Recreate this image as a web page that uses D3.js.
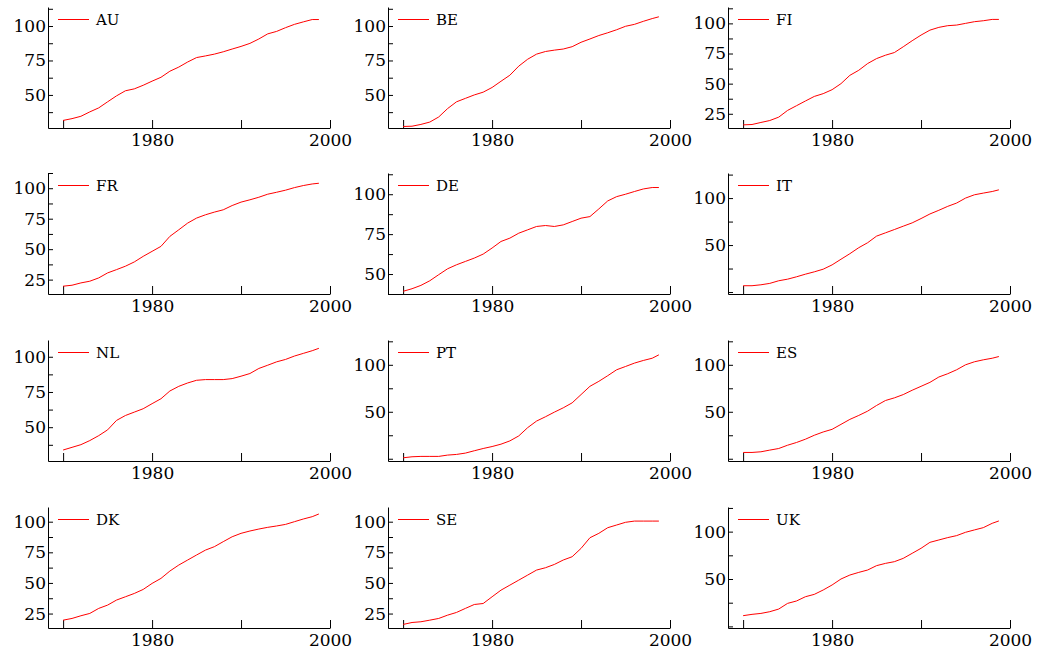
<!DOCTYPE html>
<html>
<head>
<meta charset="utf-8">
<script src="https://cdn.jsdelivr.net/npm/d3@7"></script>
<style>
  body { margin: 0; background: #fff; }
  svg { display: block; }
  text { font-family: "DejaVu Serif", "Liberation Serif", Times, serif; fill: #000; }
</style>
</head>
<body>
<svg id="chart" width="1037" height="657"></svg>
<script>
const countries = ["AU","BE","FI","FR","DE","IT","NL","PT","ES","DK","SE","UK"];
const years = [1970,1971,1972,1973,1974,1975,1976,1977,1978,1979,1980,1981,1982,1983,1984,1985,1986,1987,1988,1989,1990,1991,1992,1993,1994,1995,1996,1997,1998,1998.75];

const AU = [31.5,32.8,34.5,37.7,40.6,45,49.3,53,54.4,57,60,62.8,67.2,70.2,73.9,77.1,78.3,79.6,81.3,83.3,85.2,87.4,90.6,94.3,96.1,98.8,101.2,103,104.7,104.7];
const BE = [27.1,27.3,28.6,30.3,34,40.1,45,47.5,50,52,55.4,59.9,64.3,70.9,75.9,79.6,81.5,82.5,83.3,85,88.2,90.6,93.1,95.1,97.3,99.8,101.2,103.4,105.4,106.7];
const FI = [15.8,16.1,17.8,19.4,22.2,27.8,31.7,35.6,39.4,41.7,45,50,56.9,61.1,66.7,70.8,73.6,75.8,80.6,85.6,90.3,94.4,96.7,98.1,98.6,100,101.4,102.2,103.3,103.3];
const FR = [19.6,20.4,22.3,23.7,26.4,30.5,33.2,36,39.5,44.1,48.2,52.3,60.5,65.9,71.4,75.5,78.2,80.4,82.3,85.8,88.6,90.5,92.6,95.1,96.7,98.4,100.5,102.2,103.5,104.1];
const DE = [39.2,40.8,42.9,45.8,49.6,53.3,55.8,57.9,60,62.5,66.3,70.4,72.5,75.6,77.7,79.8,80.4,79.8,80.8,82.9,85,86,90.8,95.8,98.5,100,101.7,103.3,104.2,104.2];
const IT = [6.7,6.7,7.7,9.2,12,13.7,16.2,19,21.5,24.3,28.9,34.9,40.8,47.2,52.5,59.5,63,66.5,70.1,73.6,78.2,83.1,87,91.2,94.7,100,103.5,105.3,107,108.8];
const NL = [33.8,35.7,37.6,40.5,44,48.1,54.8,58.3,60.7,63.1,66.7,70.2,75.7,79,81.4,83.3,83.8,83.8,83.8,84.5,86.2,88.1,91.7,94,96.4,98.1,100.5,102.4,104.3,106];
const PT = [1.0,2.1,2.5,2.5,2.5,3.9,4.6,6,8.5,10.9,13,15.5,19,24.3,33.1,40.1,44.7,49.6,54.2,59.5,68.3,77.1,82.4,88.4,94.7,98.2,101.8,104.6,107,110.6];
const ES = [6.7,6.7,7.4,9.2,10.9,14.4,17.3,20.8,25,28.5,31.3,36.6,41.9,46.1,50.7,56.7,62,64.8,68.3,72.9,77.1,81.3,87,90.5,94.7,100,103.2,105.3,107,108.8];
const DK = [19.6,21,23.2,25.1,29.2,31.9,36,38.7,41.4,44.7,49.6,53.7,59.7,64.6,68.7,72.8,76.8,79.6,83.7,87.7,90.5,92.4,94,95.4,96.5,97.8,100,102.2,104.1,106.3];
const SE = [16.1,17.7,18.3,19.6,21,23.7,25.9,29.2,32.4,33.2,38.7,44.1,48.2,52.3,56.4,60.5,62.4,65.1,68.7,71.4,78.2,86.9,90.5,95.1,97.3,99.5,100.5,100.5,100.5,100.5];
const UK = [11.3,12.7,13.7,15.5,18.3,24.3,26.8,31.3,33.8,38.4,43.7,50,54.2,57,59.5,64.1,66.5,68.3,71.8,77.1,82.4,88.7,91.2,93.7,95.8,99.3,101.8,104.2,108.8,111.3];

const seriesByCountry = {AU, BE, FI, FR, DE, IT, NL, PT, ES, DK, SE, UK};
// y-axis ranges
const yMin = [26,26,13.2, 13.2,37.5,-2.1, 26,-2.4,-2.4, 13.2,13.2,-1.7];
const yMax = [113.8,113.8,113.6, 112.5,113.3,126.7, 111.9,126.4,126.4, 112,112,126];
// label step per panel (minor ticks at half the step)
const yStep = [25,25,25, 25,25,50, 25,50,50, 25,25,50];
const xTickValues = [1970,1980,1990,2000];
const xTickLabels = [1980,2000];

const svg = d3.select("#chart");
const colLeft = [48, 388, 728];
const rowTop = [7, 173, 340, 507];
const pw = 282, ph = 121;

countries.forEach((c, i) => {
  const col = i % 3, row = Math.floor(i / 3);
  const g = svg.append("g").attr("transform", `translate(${colLeft[col]},${rowTop[row]})`);
  const x = d3.scaleLinear().domain([1968.3, 2000]).range([0, pw]);
  const y = d3.scaleLinear().domain([yMin[i], yMax[i]]).range([ph, 0]);
  const step = yStep[i];
  const yTicks = d3.range(Math.ceil(yMin[i] / (step/2)) * (step/2), yMax[i] + 0.001, step/2);

  const yAxis = d3.axisLeft(y).tickValues(yTicks).tickSizeInner(-5).tickSizeOuter(0).tickPadding(2)
    .tickFormat(v => (Math.abs(v % step) < 1e-6 && v > 0) ? d3.format("d")(v) : "");
  const ya = g.append("g").call(yAxis).attr("font-family", null);
  ya.selectAll("text").attr("font-size", 17);

  const xAxis = d3.axisBottom(x).tickValues(xTickValues).tickSizeInner(-8).tickSizeOuter(0).tickPadding(6)
    .tickFormat(v => xTickLabels.includes(v) ? String(v) : "");
  const xa = g.append("g").attr("transform", `translate(0,${ph})`).call(xAxis).attr("font-family", null);
  xa.selectAll("text").attr("font-size", 17);
  g.selectAll(".domain, .tick line").attr("stroke", "#000").attr("stroke-width", 1);

  const data = years.map((yr, k) => [yr, seriesByCountry[c][k]]);
  g.append("path").datum(data)
    .attr("fill", "none").attr("stroke", "#ff0000").attr("stroke-width", 1)
    .attr("d", d3.line().x(d => x(d[0])).y(d => y(d[1])));

  // legend
  g.append("line").attr("x1", 10).attr("x2", 41).attr("y1", 12.5).attr("y2", 12.5)
    .attr("stroke", "#ff0000").attr("stroke-width", 1);
  g.append("text").attr("x", 48).attr("y", 18).attr("font-size", 15).text(c);
});
</script>
</body>
</html>
